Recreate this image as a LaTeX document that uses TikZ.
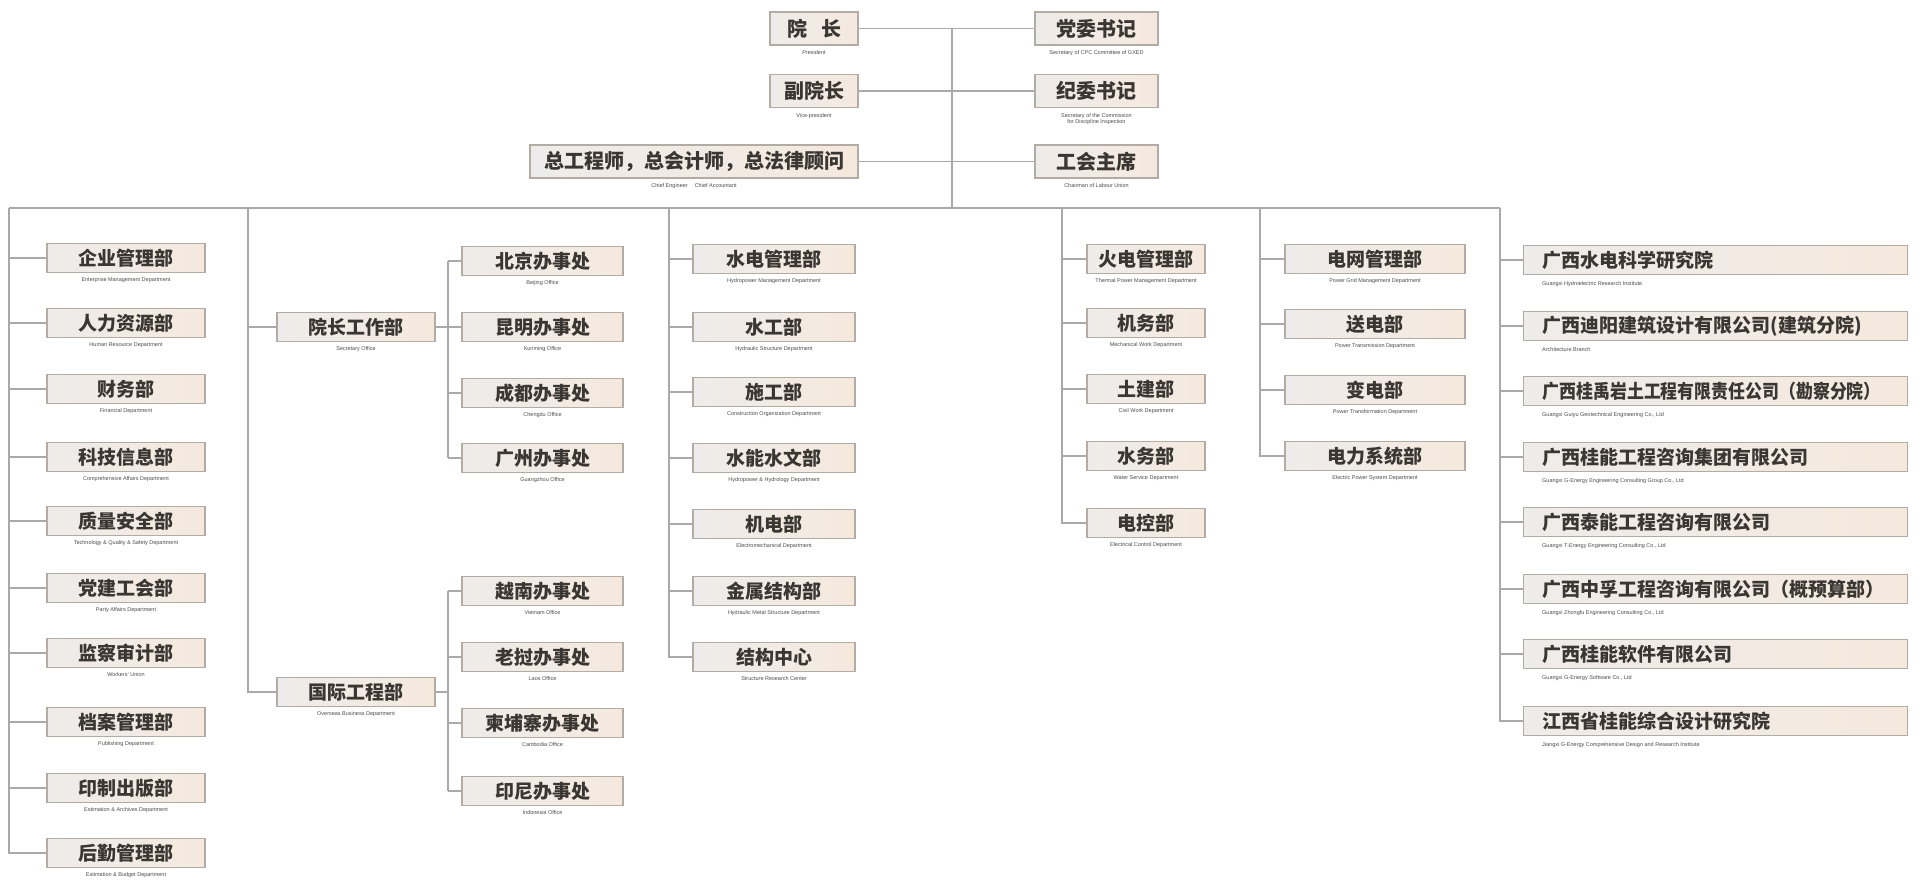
\documentclass[tikz,border=0pt]{standalone}
\usepackage{fontspec}
\usepackage{graphicx}
\setmainfont{Liberation Sans}
\newfontfamily\cjk{Noto Sans CJK SC}
\definecolor{lnc}{HTML}{A9A9A9}
\definecolor{boxline}{HTML}{B3ACA4}
\definecolor{boxfill}{HTML}{F5E9DE}
\definecolor{boxfillL}{HTML}{EEECEA}
\definecolor{txt}{HTML}{3A3632}
\definecolor{subtxt}{HTML}{4C4C4C}
\tikzset{
  ln/.style={draw=lnc, line width=1.4pt},
  box/.style={draw=boxline, line width=1.1pt, left color=boxfillL, right color=boxfill, minimum height=29pt, inner sep=0pt,
    font=\cjk\bfseries\fontsize{19}{19}\selectfont, text=txt},
  topbox/.style={box, minimum height=33pt, font=\cjk\bfseries\fontsize{20}{20}\selectfont},
  sub/.style={font=\fontsize{5.5}{6.5}\selectfont, text=subtxt, inner sep=0pt, anchor=north, align=center},
  wide/.style={box, anchor=west, minimum width=384pt, text width=346pt, inner xsep=19pt, align=left, left color=boxfillL, right color=boxfill}
}
\newcommand\dept[6]{%
  \node[box, minimum width={(#3-#2)*1pt}] (#1) at ({(#2+#3)/2},#4) {#5};
  \node[sub] (#1s) at ([yshift=-4pt]#1.south) {#6};}
\newcommand\tdept[6]{%
  \node[topbox, minimum width={(#3-#2)*1pt}] (#1) at ({(#2+#3)/2},#4) {#5};
  \node[sub] (#1s) at ([yshift=-5pt]#1.south) {#6};}
\newcommand\corp[4]{%
  \node[wide] (#1) at (1523,#2) {#3};
  \node[sub, anchor=north west] (#1s) at ([xshift=19pt,yshift=-6pt]#1.south west) {#4};}
\begin{document}
\begin{tikzpicture}[x=1pt,y=-1pt]
\useasboundingbox[fill=white] (0,0) rectangle (1920,890);
% ---- top ----
\tdept{pres}{770}{858}{28.5}{院\hspace{14pt}长}{President}
\tdept{sec}{1035}{1158}{28.5}{党委书记}{Secretary of CPC Committee of GXED}
\tdept{vp}{770}{858}{91}{副院长}{Vice-president}
\tdept{disc}{1035}{1158}{91}{纪委书记}{Secretary of the Commission\\for Discipline Inspection}
\tdept{chief}{530}{858}{161.5}{总工程师，总会计师，总法律顾问}{Chief Engineer \quad Chief Accountant}
\tdept{union}{1035}{1158}{161.5}{工会主席}{Chairman of Labour Union}
\coordinate (tb) at (952,208);
\draw[ln] (pres.east) -- (sec.west);
\draw[ln] (vp.east) -- (disc.west);
\draw[ln] (chief.east) -- (union.west);
\draw[ln] (pres.east -| tb) -- (tb);
% ---- bus ----
\coordinate (c1) at (9,208);
\coordinate (c2) at (248,208);
\coordinate (c3) at (669,208);
\coordinate (c4) at (1062,208);
\coordinate (c5) at (1260,208);
\coordinate (c6) at (1500,208);
\draw[ln] (c1) -- (c6);
% ---- column 1 ----
\dept{l1}{47}{205}{258}{企业管理部}{Enterprise Management Department}
\dept{l2}{47}{205}{323}{人力资源部}{Human Resource Department}
\dept{l3}{47}{205}{389}{财务部}{Financial Department}
\dept{l4}{47}{205}{457}{科技信息部}{Comprehensive Affairs Department}
\dept{l5}{47}{205}{521}{质量安全部}{Technology \& Quality \& Safety Department}
\dept{l6}{47}{205}{588}{党建工会部}{Party Affairs Department}
\dept{l7}{47}{205}{653}{监察审计部}{Workers' Union}
\dept{l8}{47}{205}{722}{档案管理部}{Publishing Department}
\dept{l9}{47}{205}{788}{印制出版部}{Estimation \& Archives Department}
\dept{l10}{47}{205}{853}{后勤管理部}{Estimation \& Budget Department}
\draw[ln] (c1) |- (l10.west);
\foreach \n in {l1,l2,l3,l4,l5,l6,l7,l8,l9} \draw[ln] (\n.west) -- (\n.west -| c1);
% ---- column 2 ----
\dept{wk}{277}{435}{327}{院长工作部}{Secretary Office}
\dept{intl}{277}{435}{692}{国际工程部}{Overseas Business Department}
\draw[ln] (c2) |- (intl.west);
\draw[ln] (wk.west) -- (wk.west -| c2);
\coordinate (ox) at (448,0);
\dept{bj}{462}{623}{261}{北京办事处}{Beijing Office}
\dept{km}{462}{623}{327}{昆明办事处}{Kunming Office}
\dept{cd}{462}{623}{393}{成都办事处}{Chengdu Office}
\dept{gz}{462}{623}{458}{广州办事处}{Guangzhou Office}
\dept{vn}{462}{623}{591}{越南办事处}{Vietnam Office}
\dept{la}{462}{623}{657}{老挝办事处}{Laos Office}
\dept{kh}{462}{623}{723}{柬埔寨办事处}{Cambodia Office}
\dept{id}{462}{623}{791}{印尼办事处}{Indonesia Office}
\draw[ln] (bj.west -| ox) -- (gz.west -| ox);
\draw[ln] (vn.west -| ox) -- (id.west -| ox);
\draw[ln] (wk.east) -- (wk.east -| ox);
\draw[ln] (intl.east) -- (intl.east -| ox);
\foreach \n in {bj,km,cd,gz,vn,la,kh,id} \draw[ln] (\n.west) -- (\n.west -| ox);
% ---- column 3 ----
\dept{h1}{693}{855}{259}{水电管理部}{Hydropower Management Department}
\dept{h2}{693}{855}{327}{水工部}{Hydraulic Structure Department}
\dept{h3}{693}{855}{392}{施工部}{Construction Organization Department}
\dept{h4}{693}{855}{458}{水能水文部}{Hydropower \& Hydrology Department}
\dept{h5}{693}{855}{524}{机电部}{Electromechanical Department}
\dept{h6}{693}{855}{591}{金属结构部}{Hydraulic Metal Structure Department}
\dept{h7}{693}{855}{657}{结构中心}{Structure Research Center}
\draw[ln] (c3) |- (h7.west);
\foreach \n in {h1,h2,h3,h4,h5,h6} \draw[ln] (\n.west) -- (\n.west -| c3);
% ---- column 4 ----
\dept{t1}{1087}{1205}{259}{火电管理部}{Thermal Power Management Department}
\dept{t2}{1087}{1205}{323}{机务部}{Mechanical Work Department}
\dept{t3}{1087}{1205}{389}{土建部}{Civil Work Department}
\dept{t4}{1087}{1205}{456}{水务部}{Water Service Department}
\dept{t5}{1087}{1205}{523}{电控部}{Electrical Control Department}
\draw[ln] (c4) |- (t5.west);
\foreach \n in {t1,t2,t3,t4} \draw[ln] (\n.west) -- (\n.west -| c4);
% ---- column 5 ----
\dept{g1}{1285}{1465}{259}{电网管理部}{Power Grid Management Department}
\dept{g2}{1285}{1465}{324}{送电部}{Power Transmission Department}
\dept{g3}{1285}{1465}{390}{变电部}{Power Transformation Department}
\dept{g4}{1285}{1465}{456}{电力系统部}{Electric Power System Department}
\draw[ln] (c5) |- (g4.west);
\foreach \n in {g1,g2,g3} \draw[ln] (\n.west) -- (\n.west -| c5);
% ---- column 6 ----
\corp{r1}{260}{广西水电科学研究院}{Guangxi Hydroelectric Research Institute}
\corp{r2}{326}{广西迪阳建筑设计有限公司(建筑分院)}{Architecture Branch}
\corp{r3}{391}{\scalebox{0.89}[1]{广西桂禹岩土工程有限责任公司（勘察分院）}}{Guangxi Guiyu Geotechnical Engineering Co., Ltd}
\corp{r4}{457}{广西桂能工程咨询集团有限公司}{Guangxi G-Energy Engineering Consulting Group Co., Ltd}
\corp{r5}{522}{广西泰能工程咨询有限公司}{Guangxi T-Energy Engineering Consulting Co., Ltd}
\corp{r6}{589}{广西中孚工程咨询有限公司（概预算部）}{Guangxi Zhongfu Engineering Consulting Co., Ltd}
\corp{r7}{654}{广西桂能软件有限公司}{Guangxi G-Energy Software Co., Ltd}
\corp{r8}{721}{江西省桂能综合设计研究院}{Jiangxi G-Energy Comprehensive Design and Research Institute}
\draw[ln] (c6) |- (r8.west);
\foreach \n in {r1,r2,r3,r4,r5,r6,r7} \draw[ln] (\n.west) -- (\n.west -| c6);
\end{tikzpicture}
\end{document}
